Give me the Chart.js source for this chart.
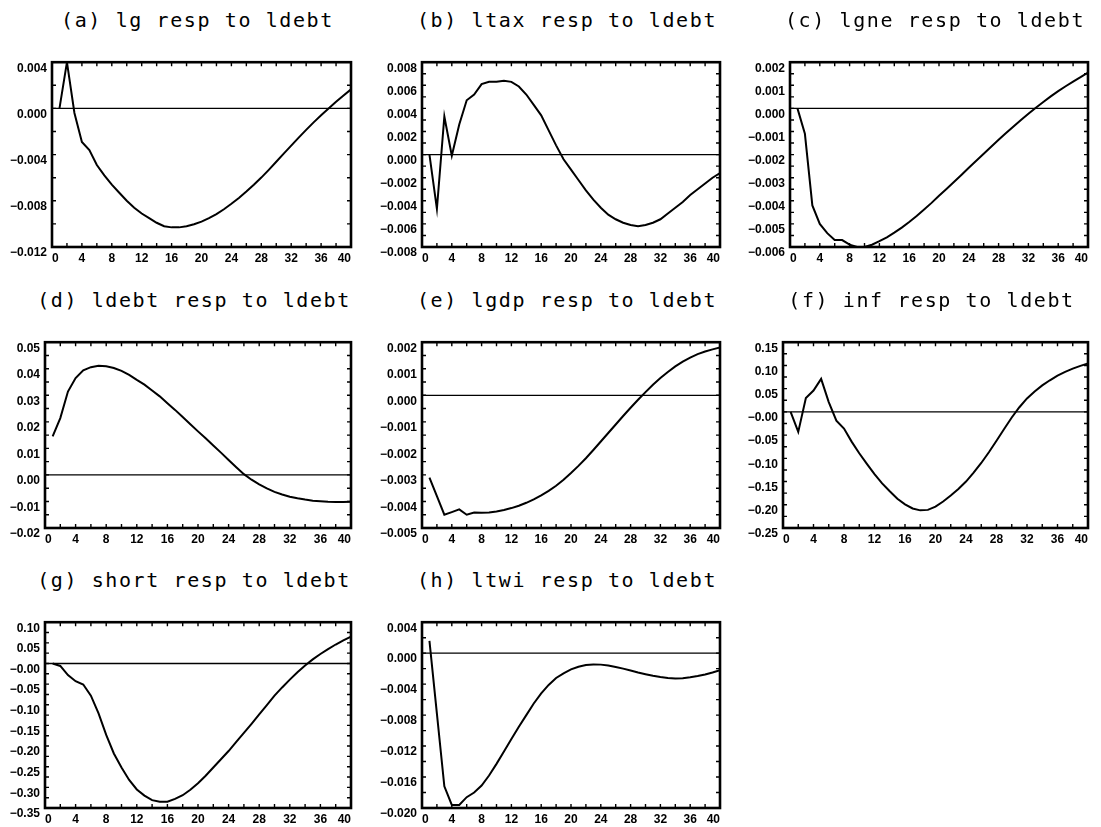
<!DOCTYPE html>
<html>
<head>
<meta charset="utf-8">
<script src="https://cdn.jsdelivr.net/npm/chart.js@4/dist/chart.umd.min.js"></script>
<style>
  body { margin: 0; background: #fff; width: 1101px; height: 827px; position: relative; overflow: hidden; }
  canvas { position: absolute; }
  .title {
    position: absolute; width: 420px; text-align: center; white-space: nowrap;
    font-family: "DejaVu Sans Mono", monospace; font-size: 20px; letter-spacing: 1.6px;
    line-height: 26px; color: #000;
  }
</style>
</head>
<body>
<script>
// horizon (quarters) and x axis ticks
const horizon = [1, 2, 3, 4, 5, 6, 7, 8, 9, 10, 11, 12, 13, 14, 15, 16, 17, 18, 19, 20,
  21, 22, 23, 24, 25, 26, 27, 28, 29, 30, 31, 32, 33, 34, 35, 36, 37, 38, 39, 40];
const xTickValues = [0, 4, 8, 12, 16, 20, 24, 28, 32, 36, 40];
const xTickLabels = ['0', '4', '8', '12', '16', '20', '24', '28', '32', '36', '40'];

const titles = ['(a) lg resp to ldebt', '(b) ltax resp to ldebt', '(c) lgne resp to ldebt',
  '(d) ldebt resp to ldebt', '(e) lgdp resp to ldebt', '(f) inf resp to ldebt',
  '(g) short resp to ldebt', '(h) ltwi resp to ldebt'];

// responses
const lgResp = [0.0000, 0.0040, -0.0004, -0.0029, -0.0036, -0.0049, -0.0058, -0.0066, -0.0073, -0.0080,
  -0.0086, -0.0091, -0.0095, -0.0099, -0.0102, -0.0103, -0.01030, -0.01020, -0.01003, -0.00980,
  -0.00950, -0.00915, -0.00873, -0.00826, -0.00775, -0.00720, -0.00661, -0.00599, -0.00532, -0.00462,
  -0.00392, -0.00322, -0.00253, -0.00186, -0.00121, -0.00059, 0.00000, 0.00057, 0.00112, 0.00165];
const ltaxResp = [0.0000, -0.0047, 0.0033, -0.0001, 0.0026, 0.0047, 0.0052, 0.0061, 0.0063, 0.0063,
  0.0064, 0.0063, 0.0059, 0.0052, 0.0043, 0.0034, 0.0021, 0.0008, -0.0004, -0.0013,
  -0.0022, -0.0031, -0.0039, -0.0046, -0.0052, -0.0056, -0.0059, -0.0061, -0.0062, -0.0061,
  -0.0059, -0.0056, -0.0051, -0.0046, -0.0041, -0.0035, -0.0030, -0.0025, -0.0020, -0.0016];
const lgneResp = [0.0000, -0.0011, -0.0042, -0.0050, -0.0054, -0.0057, -0.0057, -0.0059, -0.0060, -0.0060,
  -0.00590, -0.00575, -0.00558, -0.00538, -0.00516, -0.00492, -0.00466, -0.00438, -0.00409, -0.00378,
  -0.00349, -0.00319, -0.00288, -0.00257, -0.00227, -0.00196, -0.00166, -0.00136, -0.00107, -0.00078,
  -0.00050, -0.00023, 0.00003, 0.00028, 0.00052, 0.00075, 0.00096, 0.00116, 0.00135, 0.00155];
const ldebtResp = [0.0145, 0.0214, 0.0314, 0.0365, 0.0394, 0.0406, 0.0411, 0.0409, 0.0403, 0.0392,
  0.0377, 0.0358, 0.0340, 0.0318, 0.0296, 0.0270, 0.0245, 0.0218, 0.0191, 0.0164,
  0.0138, 0.0111, 0.0084, 0.0056, 0.0029, 0.0003, -0.0018, -0.0036, -0.0051, -0.0064,
  -0.0074, -0.0082, -0.0088, -0.0093, -0.0097, -0.0099, -0.0101, -0.0102, -0.0102, -0.0101];
const lgdpResp = [-0.0031, -0.0038, -0.0045, -0.0044, -0.0043, -0.0045, -0.00442, -0.00443, -0.00442, -0.00438,
  -0.00432, -0.00425, -0.00416, -0.00405, -0.00392, -0.00377, -0.00360, -0.00341, -0.00318, -0.00293,
  -0.00266, -0.00237, -0.00206, -0.00174, -0.00142, -0.00110, -0.00078, -0.00047, -0.00017, 0.00012,
  0.00040, 0.00065, 0.00088, 0.00109, 0.00127, 0.00142, 0.00155, 0.00165, 0.00173, 0.00180];
const infResp = [0.000, -0.043, 0.030, 0.046, 0.071, 0.021, -0.019, -0.036, -0.064, -0.089,
  -0.112, -0.134, -0.154, -0.171, -0.187, -0.199, -0.208, -0.212, -0.211, -0.204,
  -0.193, -0.180, -0.166, -0.150, -0.131, -0.110, -0.087, -0.062, -0.037, -0.012,
  0.010, 0.029, 0.044, 0.057, 0.068, 0.078, 0.086, 0.093, 0.099, 0.104];
const shortResp = [0.000, -0.006, -0.028, -0.043, -0.051, -0.078, -0.121, -0.173, -0.218, -0.252,
  -0.282, -0.305, -0.320, -0.331, -0.335, -0.335, -0.328, -0.319, -0.306, -0.290,
  -0.272, -0.252, -0.232, -0.212, -0.190, -0.168, -0.146, -0.123, -0.101, -0.078,
  -0.058, -0.039, -0.021, -0.005, 0.010, 0.023, 0.035, 0.046, 0.056, 0.065];
const ltwiResp = [0.0016, -0.0078, -0.0172, -0.0196, -0.0196, -0.0186, -0.0180, -0.0171, -0.0158, -0.0143,
  -0.0127, -0.0111, -0.0095, -0.0080, -0.0065, -0.0052, -0.0041, -0.0032, -0.0026, -0.0021,
  -0.00175, -0.00152, -0.00145, -0.00148, -0.00160, -0.00178, -0.00200, -0.00225, -0.00250, -0.00272,
  -0.00292, -0.00308, -0.00320, -0.00326, -0.00324, -0.00312, -0.00296, -0.00275, -0.00250, -0.00220];

// y ticks (first and last are also the axis limits)
const lgTicks = [-0.012, -0.008, -0.004, 0, 0.004];
const lgLabels = ['\u22120.012', '\u22120.008', '\u22120.004', '0.000', '0.004'];
const ltaxTicks = [-0.008, -0.006, -0.004, -0.002, 0, 0.002, 0.004, 0.006, 0.008];
const ltaxLabels = ['\u22120.008', '\u22120.006', '\u22120.004', '\u22120.002', '0.000', '0.002', '0.004', '0.006', '0.008'];
const lgneTicks = [-0.006, -0.005, -0.004, -0.003, -0.002, -0.001, 0, 0.001, 0.002];
const lgneLabels = ['\u22120.006', '\u22120.005', '\u22120.004', '\u22120.003', '\u22120.002', '\u22120.001', '0.000', '0.001', '0.002'];
const ldebtTicks = [-0.02, -0.01, 0, 0.01, 0.02, 0.03, 0.04, 0.05];
const ldebtLabels = ['\u22120.02', '\u22120.01', '0.00', '0.01', '0.02', '0.03', '0.04', '0.05'];
const lgdpTicks = [-0.005, -0.004, -0.003, -0.002, -0.001, 0, 0.001, 0.002];
const lgdpLabels = ['\u22120.005', '\u22120.004', '\u22120.003', '\u22120.002', '\u22120.001', '0.000', '0.001', '0.002'];
const infTicks = [-0.25, -0.20, -0.15, -0.10, -0.05, 0, 0.05, 0.10, 0.15];
const infLabels = ['\u22120.25', '\u22120.20', '\u22120.15', '\u22120.10', '\u22120.05', '\u22120.00', '0.05', '0.10', '0.15'];
const shortTicks = [-0.35, -0.30, -0.25, -0.20, -0.15, -0.10, -0.05, 0, 0.05, 0.10];
const shortLabels = ['\u22120.35', '\u22120.30', '\u22120.25', '\u22120.20', '\u22120.15', '\u22120.10', '\u22120.05', '\u22120.00', '0.05', '0.10'];
const ltwiTicks = [-0.020, -0.016, -0.012, -0.008, -0.004, 0, 0.004];
const ltwiLabels = ['\u22120.020', '\u22120.016', '\u22120.012', '\u22120.008', '\u22120.004', '0.000', '0.004'];

const panels = [
  { values: lgResp, ticks: lgTicks, labels: lgLabels },
  { values: ltaxResp, ticks: ltaxTicks, labels: ltaxLabels },
  { values: lgneResp, ticks: lgneTicks, labels: lgneLabels },
  { values: ldebtResp, ticks: ldebtTicks, labels: ldebtLabels },
  { values: lgdpResp, ticks: lgdpTicks, labels: lgdpLabels },
  { values: infResp, ticks: infTicks, labels: infLabels },
  { values: shortResp, ticks: shortTicks, labels: shortLabels },
  { values: ltwiResp, ticks: ltwiTicks, labels: ltwiLabels }
];

// plot boxes on the page (left, top, right, bottom)
const boxes = [
  [52, 62, 351, 247], [422, 62, 720, 247], [790, 62, 1088, 247],
  [45, 342, 351, 528], [422, 342, 720, 528], [783, 342, 1088, 528],
  [45, 622, 351, 808], [422, 622, 720, 808]
];

const tickFont = { family: '"Liberation Sans", Arial, sans-serif', size: 12, weight: 'bold' };

// in-between positions for the small tick marks
function withHalfSteps(vals) {
  const out = [];
  for (let i = 0; i < vals.length; i++) {
    out.push(vals[i]);
    if (i < vals.length - 1) out.push((vals[i] + vals[i + 1]) / 2);
  }
  return out;
}

// zero line, frame box and small inward ticks
const framePlugin = {
  id: 'frame',
  beforeDatasetsDraw(chart) {
    const { ctx, chartArea: a, scales: { y } } = chart;
    const y0 = y.getPixelForValue(0);
    ctx.save();
    ctx.strokeStyle = '#000';
    ctx.lineWidth = 1.3;
    ctx.beginPath();
    ctx.moveTo(a.left, y0);
    ctx.lineTo(a.right, y0);
    ctx.stroke();
    ctx.restore();
  },
  afterDraw(chart) {
    const { ctx, chartArea: a, scales: { x, y } } = chart;
    const len = 4;
    ctx.save();
    ctx.strokeStyle = '#000';
    ctx.lineWidth = 1.4;
    ctx.beginPath();
    withHalfSteps(xTickValues).forEach(v => {
      const px = x.getPixelForValue(v);
      ctx.moveTo(px, a.bottom); ctx.lineTo(px, a.bottom - len);
      ctx.moveTo(px, a.top); ctx.lineTo(px, a.top + len);
    });
    withHalfSteps(chart.options.scales.y.tickValues).forEach(v => {
      const py = y.getPixelForValue(v);
      ctx.moveTo(a.left, py); ctx.lineTo(a.left + len, py);
      ctx.moveTo(a.right, py); ctx.lineTo(a.right - len, py);
    });
    ctx.stroke();
    ctx.lineWidth = 2.6;
    ctx.strokeRect(a.left, a.top, a.right - a.left, a.bottom - a.top);
    ctx.restore();
  }
};

panels.forEach((p, i) => {
  const [l, t, r, b] = boxes[i];
  const padL = 62, padT = 12, padR = 14, padB = 24;
  const W = r - l + padL + padR;
  const H = b - t + padT + padB;

  const canvas = document.createElement('canvas');
  canvas.width = W;
  canvas.height = H;
  canvas.style.left = (l - padL) + 'px';
  canvas.style.top = (t - padT) + 'px';
  canvas.style.width = W + 'px';
  canvas.style.height = H + 'px';
  document.body.appendChild(canvas);

  const title = document.createElement('div');
  title.className = 'title';
  title.textContent = titles[i];
  title.style.left = ((l + r) / 2 - 4 - 210) + 'px';
  title.style.top = (t - 55) + 'px';
  document.body.appendChild(title);

  new Chart(canvas, {
    type: 'line',
    data: {
      datasets: [{
        data: horizon.map((h, k) => ({ x: h, y: p.values[k] })),
        borderColor: '#000',
        borderWidth: 2,
        pointRadius: 0,
        tension: 0,
        fill: false
      }]
    },
    options: {
      responsive: false,
      animation: false,
      devicePixelRatio: 1,
      layout: { padding: { left: 0, top: padT, right: padR, bottom: 0 } },
      plugins: { legend: { display: false }, tooltip: { enabled: false } },
      scales: {
        x: {
          type: 'linear', min: 0, max: 40,
          grid: { display: false, drawTicks: false },
          border: { display: false },
          afterBuildTicks: s => { s.ticks = xTickValues.map(v => ({ value: v })); },
          afterFit: s => { s.height = padB; },
          ticks: {
            autoSkip: false, maxRotation: 0, padding: 4, align: 'inner',
            color: '#000', font: tickFont,
            callback: (v, k) => xTickLabels[k]
          }
        },
        y: {
          type: 'linear',
          min: p.ticks[0], max: p.ticks[p.ticks.length - 1],
          tickValues: p.ticks,
          grid: { display: false, drawTicks: false },
          border: { display: false },
          afterBuildTicks: s => { s.ticks = p.ticks.map(v => ({ value: v })); },
          afterFit: s => { s.width = padL; },
          ticks: {
            autoSkip: false, padding: 5, labelOffset: 6,
            color: '#000', font: tickFont,
            callback: (v, k) => p.labels[k]
          }
        }
      }
    },
    plugins: [framePlugin]
  });
});
</script>
</body>
</html>
